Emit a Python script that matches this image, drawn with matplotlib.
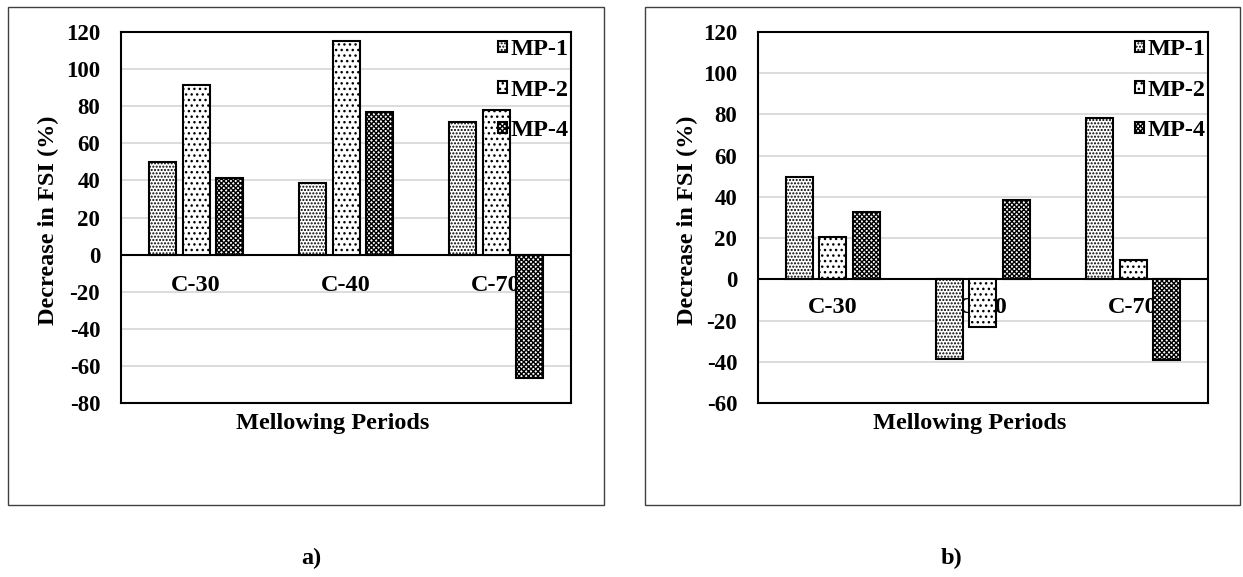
import matplotlib
matplotlib.use("Agg")
import matplotlib.pyplot as plt
from matplotlib.patches import Rectangle
import numpy as np

plt.rcParams['font.family'] = ['Liberation Serif', 'DejaVu Serif']
plt.rcParams['font.weight'] = 'bold'
plt.rcParams['hatch.linewidth'] = 1.0

# dati
periods = ["C-30", "C-40", "C-70"]
series = ["MP-1", "MP-2", "MP-4"]
values_a = {"MP-1": [49.8, 38.6, 71.3],
            "MP-2": [91.5, 115.2, 78.2],
            "MP-4": [41.5, 77.1, -66.5]}
values_b = {"MP-1": [49.8, -38.7, 78.1],
            "MP-2": [20.7, -23.3, 9.4],
            "MP-4": [32.8, 38.5, -39.2]}
yticks_a = list(range(-80, 121, 20))
yticks_b = list(range(-60, 121, 20))

hatches = {"MP-1": ".....", "MP-2": "...", "MP-4": "xxxxxxx"}

W, H = 1243, 577
fig = plt.figure(figsize=(W / 100, H / 100), dpi=100)


def px_rect(x0, y0, x1, y1):
    # box in pixel (origine in alto a sinistra) -> frazione di figura
    return [x0 / W, 1 - y1 / H, (x1 - x0) / W, (y1 - y0) / H]


def draw_panel(values, yticks, plot_box, frame_box, label_pos, ylab_pos, xlab_pos, tag, tag_pos):
    # cornice esterna del grafico
    fx0, fy0, fx1, fy1 = frame_box
    fig.patches.append(Rectangle((fx0 / W, 1 - fy1 / H), (fx1 - fx0) / W, (fy1 - fy0) / H,
                                 transform=fig.transFigure, fill=False,
                                 edgecolor='#404040', linewidth=1.0))

    ax = fig.add_axes(px_rect(*plot_box))
    x = np.arange(len(periods))
    width = 0.18
    offsets = [-0.222, 0, 0.222]
    for s, off in zip(series, offsets):
        ax.bar(x + off, values[s], width, facecolor='white', edgecolor='black',
               linewidth=1.5, hatch=hatches[s], label=s, zorder=3)

    ax.set_xlim(-0.5, 2.5)
    ax.set_ylim(yticks[0], yticks[-1])
    ax.set_yticks(yticks)
    ax.set_yticklabels([str(t) for t in yticks], fontsize=16.5, fontweight='bold')
    ax.tick_params(axis='y', length=0, pad=15)
    ax.set_xticks([])
    ax.grid(axis='y', color='#d9d9d9', linewidth=1.3, zorder=0)
    ax.set_axisbelow(True)
    ax.axhline(0, color='black', linewidth=1.5, zorder=2.5)
    for sp in ax.spines.values():
        sp.set_linewidth(1.5)
        sp.set_color('black')

    for i, p in enumerate(periods):
        ax.annotate(p, (i, 0), xytext=(0, -label_pos), textcoords='offset pixels',
                    ha='center', va='center', fontsize=17.5, fontweight='bold', zorder=2)

    leg = ax.legend(loc='upper right', bbox_to_anchor=(1.011, 1.0), frameon=False,
                    fontsize=17.5, handlelength=0.35, handleheight=0.35,
                    handletextpad=0.15, labelspacing=0.8, borderaxespad=0.0,
                    borderpad=0.3)
    for t in leg.get_texts():
        t.set_fontweight('bold')

    fig.text(ylab_pos[0] / W, 1 - ylab_pos[1] / H, "Decrease in FSI (%)", rotation=90,
             ha='center', va='center', fontsize=17.5, fontweight='bold')
    fig.text(xlab_pos[0] / W, 1 - xlab_pos[1] / H, "Mellowing Periods",
             ha='center', va='center', fontsize=17.5, fontweight='bold')
    fig.text(tag_pos[0] / W, 1 - tag_pos[1] / H, tag,
             ha='center', va='center', fontsize=17.5, fontweight='bold')


draw_panel(values_a, yticks_a, (121, 32, 571, 403), (8, 7, 604, 505),
           31, (48, 220), (333, 423), "a)", (311, 558))
draw_panel(values_b, yticks_b, (758, 32, 1208, 403), (645, 7, 1240, 505),
           28, (687, 220), (970, 423), "b)", (952, 558))

fig.savefig("out.png", dpi=100)
